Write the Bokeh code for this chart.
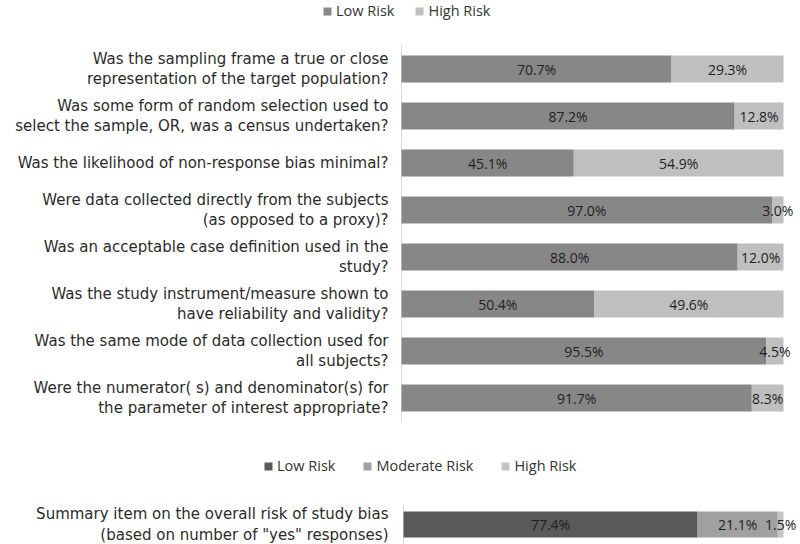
from bokeh.plotting import figure
from bokeh.models import ColumnDataSource, Legend, LegendItem, Range1d
from bokeh.layouts import column
from bokeh.core.properties import value
from bokeh.embed import file_html
from bokeh.resources import INLINE

# ---------------- data ----------------
questions = [
    "Was the sampling frame a true or close\nrepresentation of the target population?",
    "Was some form of random selection used to\nselect the sample, OR, was a census undertaken?",
    "Was the likelihood of non-response bias minimal?",
    "Were data collected directly from the subjects\n(as opposed to a proxy)?",
    "Was an acceptable case definition used in the\nstudy?",
    "Was the study instrument/measure shown to\nhave reliability and validity?",
    "Was the same mode of data collection used for\nall subjects?",
    "Were the numerator( s) and denominator(s) for\nthe parameter of interest appropriate?",
]
low_risk = [70.7, 87.2, 45.1, 97.0, 88.0, 50.4, 95.5, 91.7]
high_risk = [29.3, 12.8, 54.9, 3.0, 12.0, 49.6, 4.5, 8.3]
top_series = ["Low Risk", "High Risk"]

summary_item = ["Summary item on the overall risk of study bias\n(based on number of \"yes\" responses)"]
summary_low = [77.4]
summary_moderate = [21.1]
summary_high = [1.5]
summary_series = ["Low Risk", "Moderate Risk", "High Risk"]

# ---------------- styles / layout constants (pixels) ----------------
TOP_COLORS = ["#878787", "#bfbfbf"]
SUM_COLORS = ["#595959", "#a0a0a0", "#c4c4c4"]
LABEL_FONT = "DejaVu Sans"
VALUE_FONT = "Open Sans"
TXT = "#2b2b2b"
W = 800


def make_block(height, axis_px, full_px, first_row_px, row_px, bar_px, axis_top_px,
               gap_px, legend_x, legend_y_center):
    """Figure whose frame covers the whole canvas; value axis 0..100 maps to
    axis_px..full_px, category rows are row_px apart."""
    ppu = (full_px - axis_px) / 100.0
    xr = Range1d(-axis_px / ppu, (W - axis_px) / ppu)
    yr = Range1d((height - first_row_px) / row_px, -first_row_px / row_px)
    p = figure(width=W, height=height, x_range=xr, y_range=yr,
               output_backend="svg", toolbar_location=None,
               min_border_left=0, min_border_right=0, min_border_top=0, min_border_bottom=0)
    p.axis.visible = False
    p.grid.grid_line_color = None
    p.outline_line_color = None
    info = dict(bar_h=bar_px / row_px, label_x=-gap_px / ppu,
                axis_y0=(axis_top_px - first_row_px) / row_px,
                legend_loc=(legend_x, height - legend_y_center - 8))
    return p, info


def legend(items, spacing, loc):
    return Legend(items=items, orientation="horizontal", location=loc,
                  glyph_width=10, glyph_height=10, label_height=16, label_standoff=4,
                  spacing=spacing, padding=0, margin=0, border_line_color=None,
                  background_fill_alpha=0, label_text_font=VALUE_FONT,
                  label_text_font_size="14.5px", label_text_color="#333333")


def label_common(p, src, info, n):
    # category labels and the category axis line
    p.text(x=info["label_x"], y="row", text="q", source=src, text_align="right",
           text_baseline="middle", text_font=value(LABEL_FONT), text_font_size="15px",
           text_color=TXT, text_line_height=1.15)
    p.segment(x0=0, x1=0, y0=info["axis_y0"], y1=n, line_color="#d9d9d9", line_width=1)


# ---------------- top block ----------------
rows = list(range(len(questions)))
src = ColumnDataSource(dict(
    row=rows,
    q=questions,
    low=low_risk,
    high=high_risk,
    low_mid=[v / 2 for v in low_risk],
    high_mid=[l + h / 2 for l, h in zip(low_risk, high_risk)],
    low_txt=[f"{v:.1f}%" for v in low_risk],
    high_txt=[f"{v:.1f}%" for v in high_risk],
))

p1, i1 = make_block(height=430, axis_px=401, full_px=783, first_row_px=68.5, row_px=47,
                    bar_px=27, axis_top_px=44, gap_px=13, legend_x=322, legend_y_center=12)
label_common(p1, src, i1, len(questions) - 0.5)
rs1 = p1.hbar_stack(["low", "high"], y="row", height=i1["bar_h"], color=TOP_COLORS,
                    line_color=None, source=src)
for xcol, tcol in [("low_mid", "low_txt"), ("high_mid", "high_txt")]:
    p1.text(x=xcol, y="row", text=tcol, source=src, text_align="center",
            text_baseline="middle", text_font=value(VALUE_FONT), text_font_size="14px",
            text_color="#1f1f1f")
p1.add_layout(legend([LegendItem(label=s, renderers=[r]) for s, r in zip(top_series, rs1)],
                     20, i1["legend_loc"]), "center")

# ---------------- bottom block ----------------
src2 = ColumnDataSource(dict(
    row=list(range(len(summary_item))),
    q=summary_item,
    low=summary_low,
    mod=summary_moderate,
    high=summary_high,
    low_mid=[v / 2 for v in summary_low],
    mod_mid=[l + m / 2 for l, m in zip(summary_low, summary_moderate)],
    high_mid=[l + m + h / 2 for l, m, h in zip(summary_low, summary_moderate, summary_high)],
    low_txt=[f"{v:.1f}%" for v in summary_low],
    mod_txt=[f"{v:.1f}%" for v in summary_moderate],
    high_txt=[f"{v:.1f}%" for v in summary_high],
))

p2, i2 = make_block(height=114, axis_px=403, full_px=783, first_row_px=94, row_px=52,
                    bar_px=26, axis_top_px=75, gap_px=15, legend_x=263, legend_y_center=37)
label_common(p2, src2, i2, 1.0)
rs2 = p2.hbar_stack(["low", "mod", "high"], y="row", height=i2["bar_h"],
                    color=SUM_COLORS, line_color=None, source=src2)
for xcol, tcol in [("low_mid", "low_txt"), ("mod_mid", "mod_txt"), ("high_mid", "high_txt")]:
    p2.text(x=xcol, y="row", text=tcol, source=src2, text_align="center",
            text_baseline="middle", text_font=value(VALUE_FONT), text_font_size="14px",
            text_color="#1f1f1f")
p2.add_layout(legend([LegendItem(label=s, renderers=[r]) for s, r in zip(summary_series, rs2)],
                     27, i2["legend_loc"]), "center")

layout = column(p1, p2, spacing=0)
open("out.html", "w").write(file_html(layout, INLINE))
